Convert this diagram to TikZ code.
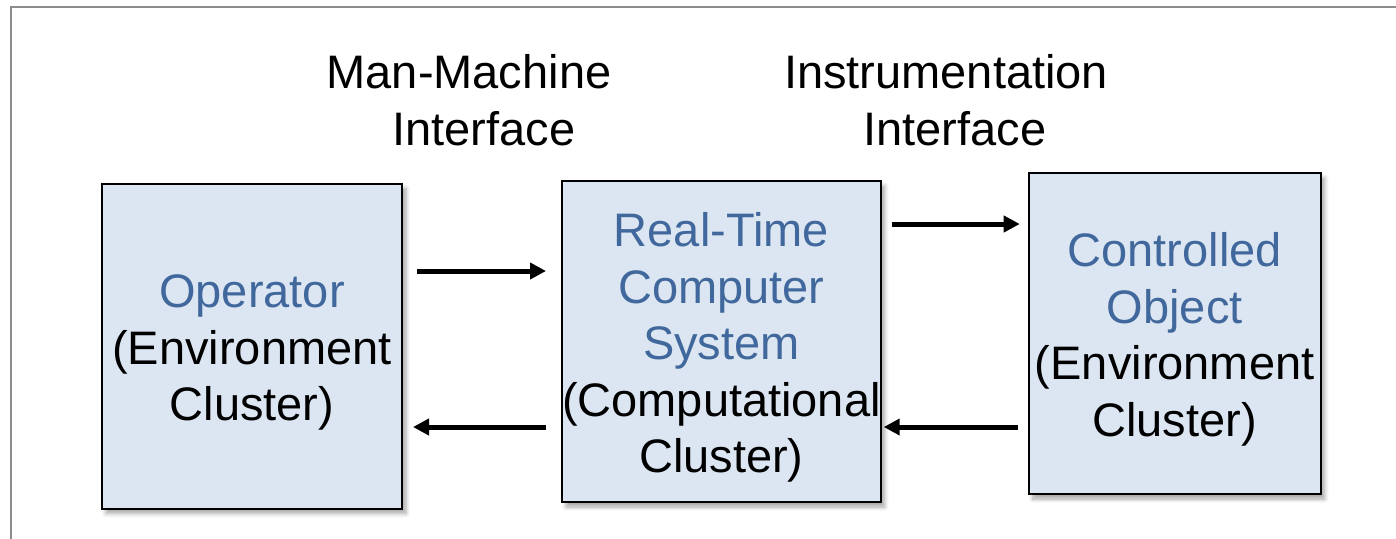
\documentclass[tikz,border=0pt]{standalone}
\usepackage{fontspec}
\setmainfont{Liberation Sans}
\usetikzlibrary{positioning, arrows.meta, shadows.blur}
\definecolor{boxfill}{HTML}{DCE6F2}
\definecolor{boxblue}{HTML}{41689C}
\definecolor{framegray}{HTML}{8C8C8C}
\tikzset{%
  flow/.style={-{Triangle[length=8pt, width=8pt]}, line width=2.5pt},
  cl/.style={draw, line width=1pt, fill=boxfill, align=center, inner sep=0pt,
    blur shadow={shadow xshift=2pt, shadow yshift=-2.5pt, shadow blur steps=6, shadow opacity=35}},
  lbl/.style={align=center}
}
% strut that pushes the text block a little lower in its box
\newcommand{\topstrut}{\rule{0pt}{23pt}}

\begin{document}
\begin{tikzpicture}[x=0.5pt, y=-0.5pt, font=\fontsize{23.5}{28.3}\selectfont]
        \useasboundingbox (0,0) rectangle (1396,538);
        \clip (0,0) rectangle (1396,538);
        \draw[framegray, line width=1pt] (11,7) rectangle (1420,560);
        \node[lbl] (mmi) at (469,100) {Man-Machine\\\hspace*{15pt}Interface};
        \node[lbl] (ii)  at (946,100) {Instrumentation\\\hspace*{9pt}Interface};
        \node[cl, minimum width=150pt, minimum height=162.5pt] (op) at (252,346)
          {\topstrut\textcolor{boxblue}{Operator}\\(Environment\\Cluster)};
        \node[cl, minimum width=157.5pt, minimum height=160.5pt] (rt) [right = 79pt of op, yshift=2.25pt]
          {\topstrut\textcolor{boxblue}{Real-Time}\\\textcolor{boxblue}{Computer}\\\textcolor{boxblue}{System}\\(Computational\\Cluster)};
        \node[cl, minimum width=146pt, minimum height=160.5pt] (ctl) [right = 73pt of rt, yshift=4pt]
          {\topstrut\textcolor{boxblue}{Controlled}\\\textcolor{boxblue}{Object}\\(Environment\\Cluster)};
        \path[flow]
        ([yshift=37.5pt]op.east) edge[shorten <=7pt, shorten >=7.5pt] ([yshift=37.5pt]op.east -| rt.west)
        ([yshift=-42.75pt]rt.west) edge[shorten <=7.5pt, shorten >=5pt] ([yshift=-42.75pt]rt.west -| op.east)
        ([yshift=58.75pt]rt.east) edge[shorten <=5pt, shorten >=4pt] ([yshift=58.75pt]rt.east -| ctl.west)
        ([yshift=-46.75pt]ctl.west) edge[shorten <=5pt, shorten >=1pt] ([yshift=-46.75pt]ctl.west -| rt.east);
      \end{tikzpicture}
\end{document}
